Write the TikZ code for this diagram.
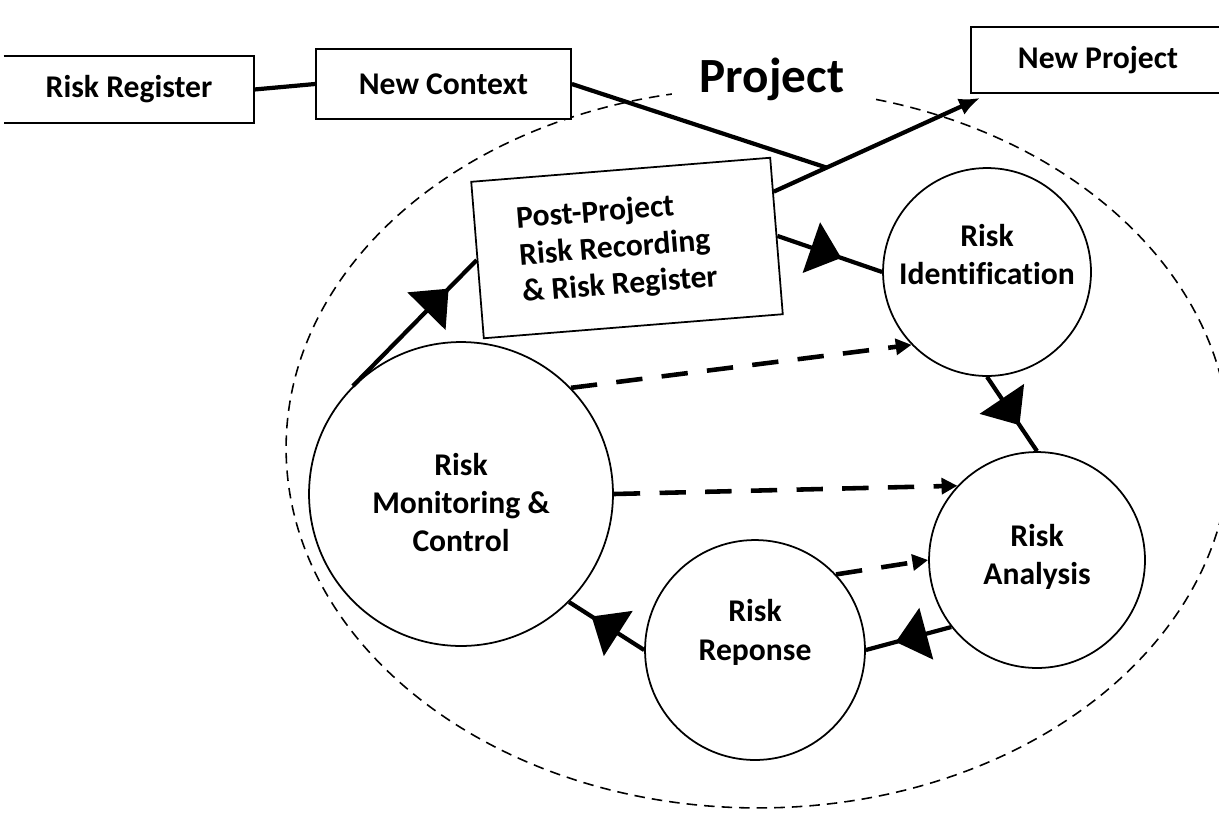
\documentclass[tikz,border=0pt]{standalone}
\usepackage{fontspec}
\setmainfont{Carlito}[Ligatures=NoCommon]
\usetikzlibrary{arrows.meta,decorations.markings,calc}

\begin{document}
\begin{tikzpicture}[x=0.02cm, y=-0.02cm,
    lbl/.style={font=\bfseries\fontsize{18}{21.7}\selectfont, align=center},
    box/.style={draw, line width=1pt, fill=white, inner sep=0pt},
    stage/.style={circle, draw, line width=1pt, fill=white, inner sep=0pt},
    link/.style={line width=2.4pt},
    flow/.style={link, postaction={decorate},
        decoration={markings, mark=at position #1 with {\arrow{Triangle[length=18pt, width=30pt]}}}},
    hint/.style={line width=2.6pt, dash pattern=on 15pt off 11pt, -{Triangle[length=9pt, width=9pt]}}]

% page frame
\useasboundingbox (0,0) rectangle (1219,812);
\clip (0,0) rectangle (1219,812);
\fill[white] (0,0) rectangle (1219,812);

% project boundary
\draw[line width=0.9pt, dash pattern=on 6pt off 4pt] (758,448) ellipse [x radius=9.44cm, y radius=7.2cm];
\node[font=\bfseries\fontsize{28}{31}\selectfont, fill=white, inner xsep=16pt, anchor=base] (title) at (772,92) {Project};

% boxes along the top
\node[lbl, minimum width=5cm, minimum height=1.34cm] (reg) at (129,89.5) {Risk Register};
\draw[line width=1pt] (reg.north west) -- (reg.north east) -- (reg.south east) -- (reg.south west);
\node[box, lbl, minimum width=5.1cm, minimum height=1.4cm] (ctx) at (443.5,84) {New Context};
\node[box, lbl, minimum width=5.08cm, minimum height=1.32cm] (np) at (1098,60) {New Project};

% post-project record, slightly tilted
\node[box, lbl, font=\bfseries\fontsize{18}{21}\selectfont, align=flush left, rotate=4.6,
      text width=4.32cm, inner xsep=0.84cm, minimum height=3.14cm] (post) at (627,248)
      {Post-Project\\Risk Recording\\\& Risk Register};

% the four stages
\node[stage, minimum size=4.16cm, label={[lbl, name=ridtext, yshift=10pt]center:{Risk\\Identification}}] (rid) at (987,272) {};
\node[stage, minimum size=4.32cm, label={[lbl, name=ratext, yshift=2pt]center:{Risk\\Analysis}}] (ra) at (1037,560) {};
\node[stage, minimum size=4.4cm, label={[lbl, name=rrtext, yshift=10pt]center:{Risk\\Reponse}}] (rr) at (755,650) {};
\node[stage, minimum size=6.08cm, label={[lbl, name=montext, yshift=-5pt]center:{Risk\\Monitoring \&\\Control}}] (mon) at (461,494) {};

% context lines and hand-over to the next project
\coordinate (pp) at ($(post.north east)!0.22!(post.south east)$);
\coordinate (jn) at ($(pp)!0.256!([shift={(10,4)}]np.south west)$);
\draw[link] (reg.east) -- (ctx.west);
\draw[link, -{Latex[length=12pt, width=10pt]}] (pp) -- ([shift={(10,4)}]np.south west);
\draw[link] (ctx.east) -- (jn);

% main cycle
\foreach \from/\to/\pos in {post.east/rid.180/0.61, rid.south/ra.north/0.65,
                            ra.218/rr.east/0.65, rr.west/mon.-45/0.70, mon.135/post.west/0.775}
    \draw[flow=\pos] (\from) -- (\to);

% feedback from monitoring and response
\foreach \from/\to in {mon.44/rid.224, mon.east/ra.137, rr.43/ra.west}
    \draw[hint] (\from) -- (\to);
\end{tikzpicture}
\end{document}
